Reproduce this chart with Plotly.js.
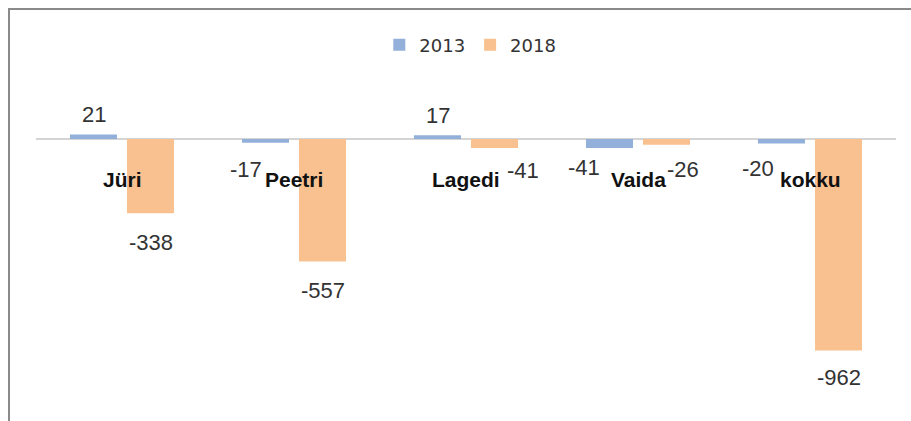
<!DOCTYPE html>
<html>
<head>
<meta charset="utf-8">
<script src="https://cdn.plot.ly/plotly-3.0.1.min.js"></script>
<style>
  html, body { margin: 0; padding: 0; background: #fff; }
  #wrap { position: relative; width: 911px; height: 421px; overflow: hidden; }
  #chart { position: absolute; left: 0; top: 0; width: 911px; height: 421px; }
  #frame { position: absolute; left: 8px; top: 8px; width: 920px; height: 430px;
           border-left: 2px solid #8a8a8a; border-top: 2px solid #8a8a8a; pointer-events: none; }
</style>
</head>
<body>
<div id="wrap">
  <div id="chart"></div>
  <div id="frame"></div>
</div>
<script>
// ---- data ----
const categories = ['Jüri', 'Peetri', 'Lagedi', 'Vaida', 'kokku'];
const series2013 = [21, -17, 17, -41, -20];
const series2018 = [-338, -557, -41, -26, -962];
const seriesNames = ['2013', '2018'];

// ---- label placement (pixels, relative to bar end) ----
const lblDx2013 = [0, -20, 0, -25.5, -23.5];
const lblDy2013 = [19.4, -26.3, 19.8, -19, -25];
const lblDx2018 = [0, 0, 28.5, 16, 0];
const lblDy2018 = [-28.7, -29.5, -22, -24.8, -27.4];

const blue = '#93B0DA';
const orange = '#F9C190';
const barShift = 28.5;

const traces = [
  { type: 'bar', name: seriesNames[0], x: categories, y: series2013,
    marker: { color: blue }, hoverinfo: 'none' },
  { type: 'bar', name: seriesNames[1], x: categories, y: series2018,
    marker: { color: orange }, hoverinfo: 'none' }
];

const annotations = [];
function addLabels(vals, dxs, dys, shift) {
  vals.forEach((v, i) => {
    annotations.push({
      x: categories[i], y: v, xref: 'x', yref: 'y',
      text: String(v), showarrow: false,
      xanchor: 'center', yanchor: 'middle',
      xshift: shift + dxs[i], yshift: dys[i],
      font: { family: 'Liberation Sans, Arial, sans-serif', size: 22, color: '#333333' }
    });
  });
}
addLabels(series2013, lblDx2013, lblDy2013, -barShift);
addLabels(series2018, lblDx2018, lblDy2018, barShift);

categories.forEach((c) => {
  annotations.push({
    x: c, y: 0, xref: 'x', yref: 'y', text: '<b>' + c + '</b>',
    showarrow: false, xanchor: 'center', yanchor: 'middle', yshift: -41,
    font: { family: 'Liberation Sans, Arial, sans-serif', size: 21, color: '#111111' }
  });
});

const layout = {
  width: 911, height: 421,
  margin: { l: 36, r: 15, t: 14, b: 0, pad: 0 },
  paper_bgcolor: '#ffffff', plot_bgcolor: '#ffffff',
  barmode: 'group', bargap: 0.337, bargroupgap: 0.175,
  showlegend: true,
  legend: {
    orientation: 'h', x: 0.505, xanchor: 'center', y: 0.924, yanchor: 'middle',
    font: { family: 'DejaVu Sans, sans-serif', size: 18, color: '#333333' },
    bgcolor: 'rgba(0,0,0,0)', traceorder: 'normal'
  },
  xaxis: { type: 'category', range: [-0.5, 4.5], showticklabels: false, showline: false,
           showgrid: false, zeroline: false, ticks: '', fixedrange: true },
  yaxis: { range: [-1282.4, 568.4], showticklabels: false, showline: false, showgrid: false,
           zeroline: true, zerolinecolor: '#d4d4d4', zerolinewidth: 2, ticks: '', fixedrange: true },
  annotations: annotations
};

Plotly.newPlot('chart', traces, layout, { staticPlot: true, displayModeBar: false });
</script>
</body>
</html>
